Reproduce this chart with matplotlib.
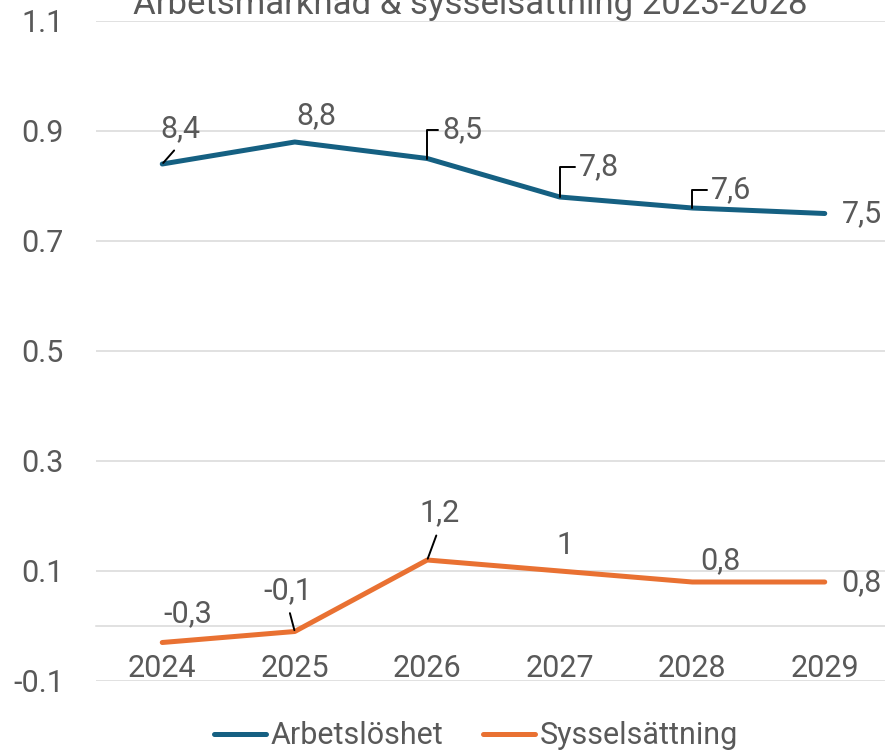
import matplotlib
matplotlib.use("Agg")
from matplotlib import pyplot as plt
from matplotlib import ticker as mtick

years = ["2024", "2025", "2026", "2027", "2028", "2029"]
arbetsloshet = [8.4, 8.8, 8.5, 7.8, 7.6, 7.5]
sysselsattning = [-0.3, -0.1, 1.2, 1.0, 0.8, 0.8]
yticks = [-0.1, 0.1, 0.3, 0.5, 0.7, 0.9, 1.1]

BLUE = "#156082"
ORANGE = "#E97132"
TEXT = "#595959"
GRID = "#D9D9D9"
FS = 22

plt.rcParams["font.family"] = ["Roboto", "DejaVu Sans"]


def fmt(v):
    s = "{:g}".format(v)
    return s.replace(".", ",")


fig = plt.figure(figsize=(8.85, 7.51), dpi=100)
ax = fig.add_axes([96 / 885, 70 / 751, 795 / 885, 660 / 751])

x = list(range(len(years)))
# plotted on a shared scale (value / 10)
blue_y = [v / 10 for v in arbetsloshet]
orange_y = [v / 10 for v in sysselsattning]
ax.plot(x, blue_y, color=BLUE, lw=3.6, solid_capstyle="round", label="Arbetslöshet", zorder=3)
ax.plot(x, orange_y, color=ORANGE, lw=3.6, solid_capstyle="round", label="Sysselsättning", zorder=3)

ax.set_xlim(-0.5, 5.5)
ax.set_ylim(-0.1, 1.1)
ax.set_yticks(yticks)
ax.yaxis.set_major_formatter(mtick.FuncFormatter(lambda v, p: "{:.1f}".format(v)))
ax.set_xticks(x)
ax.set_xticklabels(years)
ax.tick_params(axis="both", length=0, labelsize=FS, labelcolor=TEXT)
ax.tick_params(axis="y", pad=23)
ax.tick_params(axis="x", pad=20)
ax.grid(axis="y", color=GRID, lw=1.1)
ax.set_axisbelow(True)
for side in ["left", "right", "top"]:
    ax.spines[side].set_visible(False)
ax.spines["bottom"].set_position(("data", 0))
ax.spines["bottom"].set_color(GRID)
ax.spines["bottom"].set_linewidth(1.1)

# label offsets in pixels (dx, dy) and leader type
blue_lbl = [(18, 35, "diag"), (22, 26, None), (35, 29, "elbow"),
            (39, 30, "elbow"), (39, 18, "elbow"), (37, 0, None)]
orange_lbl = [(26, 29, None), (-7, 41, "diag"), (12, 47, "diag"),
              (5, 26, None), (28, 21, None), (37, -1, None)]

for vals, ys, lbls in [(arbetsloshet, blue_y, blue_lbl), (sysselsattning, orange_y, orange_lbl)]:
    for i, (v, yv, (dx, dy, kind)) in enumerate(zip(vals, ys, lbls)):
        kw = dict(xy=(i, yv), xytext=(dx, dy), textcoords="offset pixels",
                  ha="center", va="center", fontsize=FS, color=TEXT, zorder=4)
        if kind == "diag":
            kw["arrowprops"] = dict(arrowstyle="-", color="black", lw=1.4,
                                    relpos=(0.5, 0), shrinkA=4, shrinkB=1)
        elif kind == "elbow":
            kw["arrowprops"] = dict(arrowstyle="-", color="black", lw=1.4,
                                    relpos=(0, 0.5), shrinkA=1, shrinkB=0,
                                    connectionstyle="angle,angleA=0,angleB=90,rad=0")
        ax.annotate(fmt(v), **kw)

fig.text(470 / 885, 1 - 14 / 751, "Arbetsmarknad & sysselsättning 2023-2028",
         ha="center", va="baseline", fontsize=25, color=TEXT)

fig.legend(loc="center", bbox_to_anchor=(476 / 885, 15 / 751), ncol=2, frameon=False,
           fontsize=FS, labelcolor=TEXT, handlelength=1.7, handletextpad=0.16,
           columnspacing=1.3)

fig.savefig("out.png", dpi=100)
